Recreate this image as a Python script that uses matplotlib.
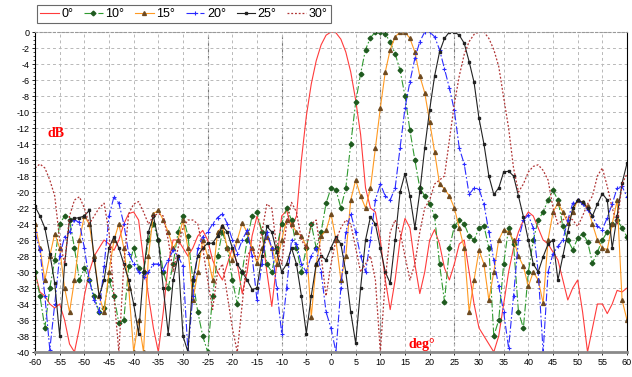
import matplotlib
matplotlib.use("Agg")
import matplotlib.pyplot as plt
from matplotlib.ticker import MultipleLocator
import numpy as np

plt.rcParams['font.family'] = ['Liberation Sans', 'DejaVu Sans']
plt.rcParams['axes.unicode_minus'] = False

# angle grid, degrees
angles = list(range(-60, 61))

# beam patterns in dB at 1 degree steps (-60 .. 60)
beam_0 = [-30, -32.5, -33, -34, -34.5, -34, -36, -39, -40, -37,
          -33, -30, -28, -27, -26, -26.5, -27.3, -26, -24, -22.7,
          -22.5, -23.5, -28.5, -33, -37, -40, -35, -29, -26, -26,
          -27, -28, -27, -25.5, -24.8, -26, -28.5, -30, -31, -29,
          -27, -29, -32.7, -30, -25.5, -23, -25, -30, -34.3, -29,
          -23, -22.3, -24.5, -23, -16, -10.5, -6.5, -3.6, -1.6, -0.4,
          0, -0.1, -0.9, -2.5, -5, -8.5, -12.8, -19.5, -22, -22.5,
          -26, -31, -34.7, -31, -26, -23.3, -24.5, -29, -32.7, -30,
          -26, -24.7, -26.5, -29.5, -31, -29, -26.5, -26, -30, -34,
          -37, -38, -39, -40, -38, -34, -30, -27, -25, -23.5,
          -22.5, -23, -24.5, -26, -26.5, -27.5, -28.5, -31, -33.5, -32,
          -31, -35, -40, -37, -34, -34, -35.2, -34, -32.3, -32.5, -32]

beam_10 = [-30, -33, -37, -32, -28.5, -24, -23, -23.5, -27, -31,
           -29.5, -31, -33, -35, -34.5, -31, -33, -36.4, -36, -29.3,
           -27, -29.5, -30, -26, -24, -26, -30, -32, -29, -25,
           -23, -25.5, -31, -35, -38, -40, -33, -28, -25, -27,
           -31, -34, -30, -26, -23, -22.5, -25, -29, -30, -27,
           -24, -22, -23.5, -27, -30, -27, -24, -27, -25, -21.4,
           -19.5, -19.7, -22, -19.5, -14, -8.8, -5.2, -2.2, -0.7, 0,
           0, -0.2, -1.3, -2.7, -4.8, -8, -12.3, -16, -19.5, -20.5,
           -21.5, -23, -29, -33.7, -27, -24.3, -23.5, -24, -25.5, -26,
           -24.5, -24.2, -27, -38, -36, -29, -24.5, -26.5, -35, -37,
           -30, -26, -23.5, -22.5, -21, -19.8, -21, -24.3, -26, -27.2,
           -25.8, -25.2, -26.2, -28.9, -27.5, -26, -25, -24, -23.5, -24.5, -25.6]

beam_15 = [-24, -27, -31, -28, -25.2, -27, -32, -35, -31, -26,
           -23, -24, -28, -33, -35, -30, -26, -24, -27, -32,
           -40, -36, -40, -28, -22.7, -22.3, -23.5, -25, -27, -26,
           -23.5, -27, -33.5, -30, -26, -28, -31, -25, -24.3, -27,
           -28.5, -26, -23.9, -25, -27, -28.9, -27, -25.6, -27, -29,
           -26, -23.5, -24, -25, -25.5, -26.8, -35.6, -29, -25.5, -24.8,
           -22.7, -26, -31, -28, -21, -18.5, -20.5, -22, -19.5, -14.5,
           -9.5, -5, -2.2, -0.6, 0, 0, -0.8, -2.5, -5.5, -7.6,
           -11.2, -15, -19, -19.6, -20.5, -22, -24.5, -27, -35, -31,
           -27.3, -29, -33.5, -30, -26, -24.7, -25, -26, -28, -29.3,
           -31.8, -30, -31, -33.9, -26, -22.5, -21.4, -22.5, -23.9, -22.5,
           -21, -21.3, -21.8, -24, -26, -27, -27.2, -24, -21, -33.5, -36]

beam_20 = [-25, -27.3, -33, -39.7, -34, -28, -25.6, -25, -23.5, -23.8,
           -27, -31, -33.5, -35, -29.3, -23, -20.6, -21.4, -24, -27.7,
           -29, -30, -30.6, -30, -29, -29, -29.7, -28.5, -27.3, -28,
           -29.3, -40, -33, -27, -25.6, -25, -24, -23.2, -22.7, -24,
           -26, -27.7, -26, -24.8, -28, -33.5, -29, -25, -27, -32,
           -37.7, -32, -26, -26.5, -29, -30, -28, -27, -30, -35,
           -37, -40, -32, -25, -22.7, -25, -28, -30, -26, -21,
           -19, -20.5, -21, -19.5, -14.5, -9.5, -6.2, -3.3, -1.2, 0,
           0, -0.6, -2.2, -4.6, -7, -9.8, -14.5, -16.5, -20.3, -19.5,
           -19.6, -21.5, -25, -28.5, -31.8, -35, -39.5, -33, -26, -23.5,
           -22.9, -24.5, -30, -40, -30, -27.7, -26.8, -26, -23.5, -21.4,
           -21, -21.5, -22.2, -23, -24.3, -24.7, -23.2, -21.5, -19.5, -19.3, -20.6]

beam_25 = [-21.8, -23, -24.5, -27.7, -31.4, -38, -29, -23.5, -23.3, -23.2,
           -23, -22.3, -28.5, -33, -31, -27, -25.6, -27, -29, -31,
           -34, -37.7, -30, -25, -23, -26, -32, -37.7, -31, -28,
           -38, -40, -31, -28, -27, -26.4, -26.4, -25.5, -24.3, -25,
           -27, -29, -30, -31, -32.2, -32, -28, -24.3, -25, -27.5,
           -30, -29, -27, -29, -33, -37.7, -33, -29, -28, -28.5,
           -27, -25.6, -26.5, -30, -35, -38.9, -32, -26, -23.1, -24,
           -27, -30, -31.4, -26, -20, -17.7, -20.5, -24.5, -20, -14.5,
           -9.7, -5.5, -2.5, -0.8, 0, 0, -0.4, -1.4, -3.7, -6.3,
           -10.8, -14, -18, -20.3, -19.5, -17.5, -17.4, -18, -20.5, -23.1,
           -26, -29, -30, -28.1, -26.5, -26, -31, -28, -25, -22,
           -21, -21.3, -22, -23, -21.5, -20.2, -21, -27, -23, -18.9, -16.4]

beam_30 = [-17, -16.5, -17, -18.5, -20.5, -26, -29, -23, -21, -20.6,
           -22, -24, -23, -22, -21.4, -25, -33, -40, -29, -22.7,
           -21.5, -21.2, -22.5, -24, -23, -22.7, -23, -26, -30, -27,
           -24.5, -23.5, -23.5, -24, -27, -31, -34.7, -30, -29, -33,
           -37, -40, -34, -28, -27, -28.5, -25, -21.5, -22, -27,
           -29, -24, -21.3, -22.5, -26, -27, -24, -23.5, -28, -33,
           -29, -26, -24.5, -23.5, -24, -27, -30, -29, -28, -31,
           -40, -31, -25, -23.5, -25, -28, -31, -29, -25, -22,
           -21, -19, -18.5, -18, -13.5, -9, -5.5, -2.8, -1.2, -0.3,
           0, 0, -0.8, -2.2, -4.3, -8.2, -12, -17, -20, -19,
           -17.5, -16.8, -16.6, -17.3, -18.5, -22, -24, -23.5, -23, -23.5,
           -24.3, -23, -21.5, -20.5, -18, -17, -19.3, -22, -24, -19, -17.7]

labels = ["0°", "10°", "15°", "20°", "25°", "30°"]

fig = plt.figure(figsize=(6.32, 3.77), dpi=100)
ax = fig.add_axes([35/632, 1-352/377, 592/632, 320/377])

ax.plot(angles, beam_0, color='#ff3b3b', lw=0.8, label=labels[0])
ax.plot(angles, beam_10, color='#2f9a2f', lw=0.8, ls=(0, (7, 2, 1.5, 2)),
        marker='D', ms=2.4, mfc='#1f5a1f', mec='#1f5a1f', label=labels[1])
ax.plot(angles, beam_15, color='#ff9a22', lw=0.8,
        marker='^', ms=2.8, mfc='#6e4a20', mec='#6e4a20', label=labels[2])
ax.plot(angles, beam_20, color='#2a2aff', lw=0.8, ls=(0, (7, 2, 1.5, 2)),
        marker='+', ms=3, mew=0.8, label=labels[3])
ax.plot(angles, beam_25, color='#222222', lw=0.8,
        marker='s', ms=1.6, label=labels[4])
ax.plot(angles, beam_30, color='#b03333', lw=0.9, ls=(0, (1.5, 1.5)), label=labels[5])

ax.set_xlim(-60, 60)
ax.set_ylim(-40, 0)
ax.set_xticks(np.arange(-60, 61, 5))
ax.set_yticks(np.arange(-40, 1, 2))
ax.yaxis.set_minor_locator(MultipleLocator(0.5))
ax.tick_params(axis='both', labelsize=6.5, length=2, width=0.6, pad=2)
ax.tick_params(axis='y', which='minor', length=1.2, width=0.5)

ax.grid(True, color='#b8b8b8', lw=0.7, ls=(0, (3, 3)))
for xv in (-25, -10, 10, 25):
    ax.axvline(xv, color='#777777', lw=0.8, ls=(0, (3, 3)), zorder=0.5)

ax.spines['bottom'].set_color('#8a8a8a')
ax.spines['bottom'].set_linewidth(2)
ax.spines['top'].set_color('#999999')
ax.spines['top'].set_linestyle((0, (2, 2)))
ax.spines['left'].set_linewidth(0.8)
ax.spines['right'].set_linewidth(0.8)

ax.text(-57.5, -12.7, "dB", color='red', fontsize=10, fontweight='bold',
        family='Liberation Serif', va='center', ha='left')
ax.text(18.3, -39.1, "deg°", color='red', fontsize=10, fontweight='bold',
        family='Liberation Serif', va='center', ha='center')

leg = fig.legend(loc='upper left', bbox_to_anchor=(37/632, 1-5/377), ncol=6,
                 fontsize=9, frameon=True, fancybox=False, edgecolor='#444444',
                 handlelength=1.5, handletextpad=0.2, columnspacing=0.85,
                 borderpad=0.25, borderaxespad=0)
leg.get_frame().set_linewidth(0.8)

fig.savefig("out.png", dpi=100)
